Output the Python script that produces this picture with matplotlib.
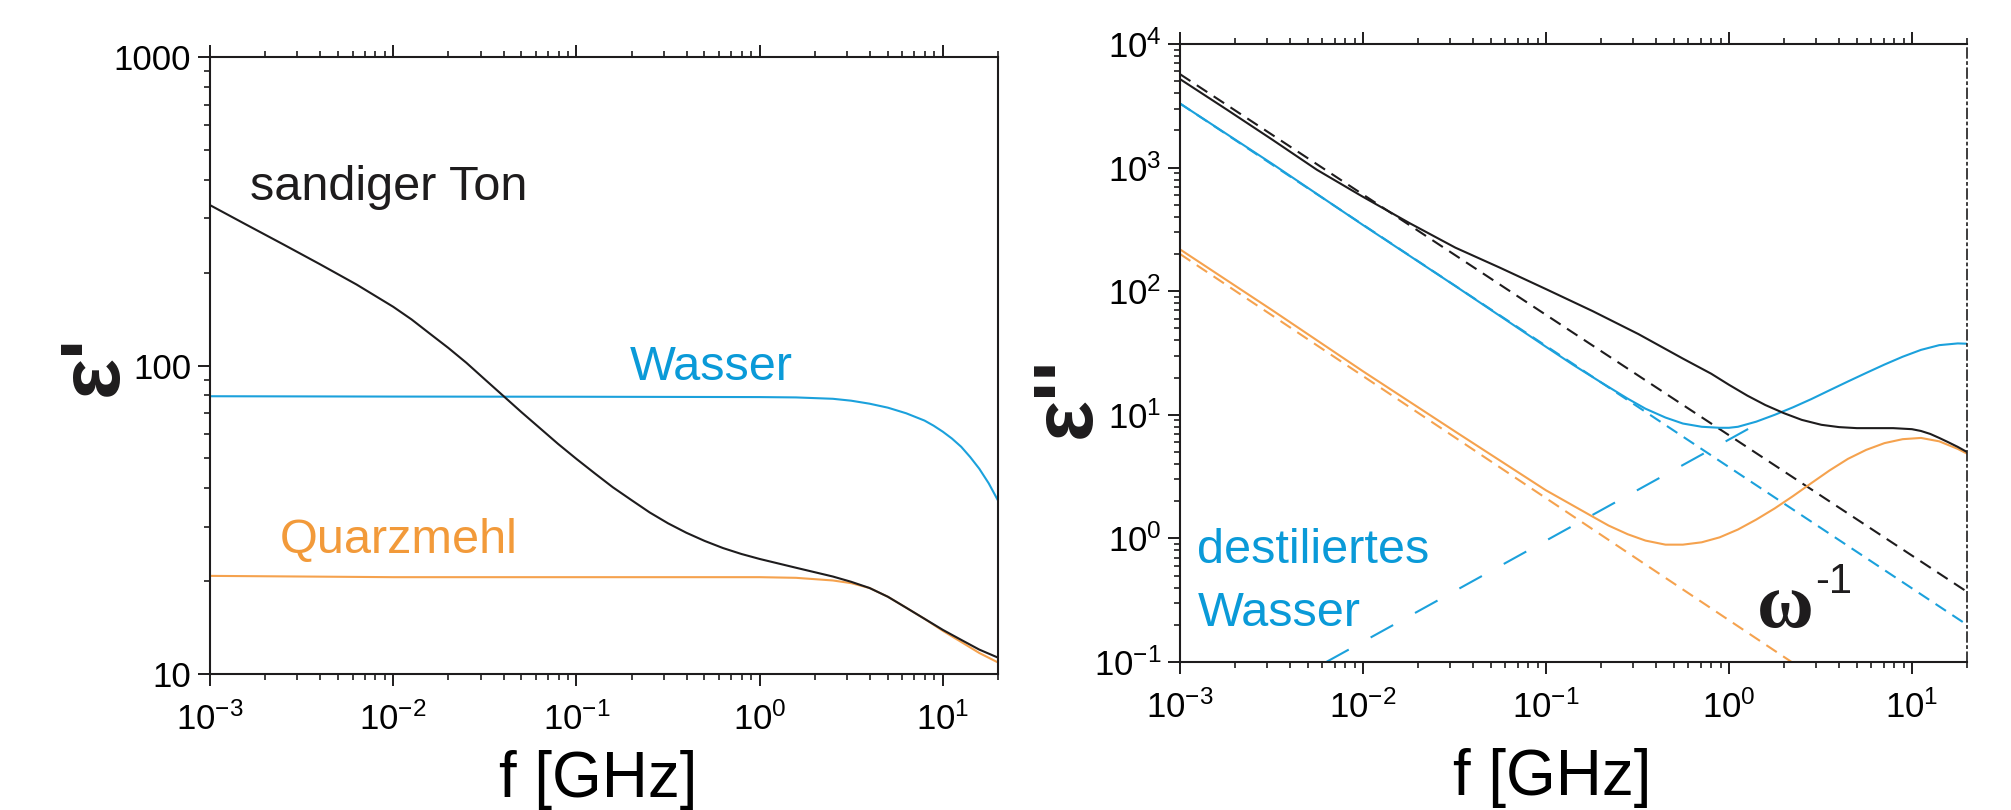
import matplotlib
matplotlib.use("Agg")
import matplotlib.pyplot as plt
from matplotlib.ticker import FixedLocator, LogLocator, NullFormatter, FixedFormatter

plt.rcParams['font.family'] = ['Liberation Sans', 'DejaVu Sans']
plt.rcParams['mathtext.fontset'] = 'custom'
plt.rcParams['mathtext.rm'] = 'Liberation Sans'
plt.rcParams['mathtext.it'] = 'Liberation Sans:italic'
plt.rcParams['mathtext.bf'] = 'Liberation Sans:bold'
plt.rcParams['lines.scale_dashes'] = False

# ---------------- data ----------------
# left panel: eps'
f_ton_re = [0.001, 0.00158, 0.00251, 0.00398, 0.00631, 0.01, 0.0126, 0.0158, 0.02, 0.0251,
            0.0316, 0.0398, 0.0501, 0.0631, 0.0794, 0.1, 0.126, 0.158, 0.2, 0.251,
            0.316, 0.398, 0.501, 0.631, 0.794, 1.0, 1.58, 2.51, 3.16, 3.98,
            5.01, 6.31, 7.94, 10, 12.6, 15.8, 20]
eps_ton_re = [331, 286, 247, 213, 183, 155, 141, 127, 114, 102,
              90.2, 79.8, 70.6, 62.7, 55.7, 49.8, 44.7, 40.3, 36.6, 33.4,
              30.8, 28.7, 27.0, 25.6, 24.5, 23.6, 22.1, 20.7, 19.9, 19.0,
              17.8, 16.4, 15.1, 13.9, 12.9, 12.0, 11.3]

f_wasser_re = [0.001, 0.01, 0.1, 1.0, 1.58, 2.51, 3.16, 3.98, 5.01, 6.31, 7.94, 8.91,
               10, 11.2, 12.6, 14.1, 15.8, 17.8, 20]
eps_wasser_re = [79.5, 79.3, 79.2, 79.0, 78.8, 78.0, 76.9, 75.2, 73.0, 70.0, 66.3, 63.8,
                 61.0, 58.0, 54.5, 50.5, 46.3, 41.5, 36.5]

f_quarz_re = [0.001, 0.01, 0.1, 1.0, 1.58, 2.51, 3.16, 3.98, 5.01, 6.31, 7.94, 10, 12.6, 15.8, 20]
eps_quarz_re = [20.8, 20.6, 20.6, 20.6, 20.5, 20.1, 19.7, 19.0, 17.8, 16.4, 15.1, 13.8, 12.7, 11.7, 10.9]

# right panel: eps''
f_ton_im = [0.001, 0.0018, 0.0032, 0.0056, 0.01, 0.018, 0.032, 0.056, 0.1, 0.18, 0.32, 0.56,
            0.8, 1.0, 1.26, 1.58, 2.0, 2.5, 3.2, 4.0, 5.0, 6.3, 7.9, 10, 11.2, 12.6, 14.1,
            15.8, 17.8, 20]
eps_ton_im = [5200, 2950, 1680, 960, 580, 355, 225, 155, 104, 69, 45, 28.5,
              21.5, 17.5, 14.3, 12.0, 10.3, 9.1, 8.3, 7.95, 7.8, 7.8, 7.8, 7.65, 7.4, 7.0, 6.5,
              6.0, 5.5, 5.0]

f_wasser_im = [0.001, 0.0032, 0.01, 0.032, 0.1, 0.14, 0.2, 0.28, 0.35, 0.45, 0.56, 0.71, 0.89,
               1.0, 1.12, 1.41, 1.78, 2.24, 2.82, 3.55, 4.47, 5.62, 7.08, 8.9, 11.2, 14.1, 17.8, 20]
eps_wasser_im = [3300, 1070, 343, 110, 35.5, 25.5, 18.3, 13.5, 11.2, 9.5, 8.5, 8.0, 7.85,
                 7.85, 8.0, 8.8, 10.0, 11.5, 13.4, 15.8, 18.6, 21.8, 25.5, 29.5, 33.5, 36.6, 37.8, 37.6]

f_quarz_im = [0.001, 0.0032, 0.01, 0.032, 0.1, 0.14, 0.18, 0.22, 0.28, 0.35, 0.45, 0.56, 0.71,
              0.89, 1.12, 1.41, 1.78, 2.24, 2.82, 3.55, 4.47, 5.62, 7.08, 8.9, 11.2, 14.1, 17.8, 20]
eps_quarz_im = [218, 70, 22.5, 7.3, 2.45, 1.85, 1.5, 1.27, 1.08, 0.96, 0.89, 0.89, 0.93,
                1.02, 1.18, 1.42, 1.75, 2.2, 2.8, 3.55, 4.4, 5.2, 5.9, 6.35, 6.5, 6.1, 5.3, 4.85]

# omega^-1 conduction asymptotes and the water relaxation asymptote
f_ton_cond = [0.001, 20]
eps_ton_cond = [5700, 0.37]
f_wasser_cond = [0.001, 20]
eps_wasser_cond = [3300, 0.2]
f_quarz_cond = [0.001, 2.2]
eps_quarz_cond = [200, 0.1]
f_wasser_relax = [0.0063, 1.4]
eps_wasser_relax = [0.1, 8.3]

xticks = [1e-3, 1e-2, 1e-1, 1e0, 1e1]
xticklabels = [r'$\mathregular{10^{-3}}$', r'$\mathregular{10^{-2}}$', r'$\mathregular{10^{-1}}$',
               r'$\mathregular{10^{0}}$', r'$\mathregular{10^{1}}$']
yticks_left = [10, 100, 1000]
yticklabels_left = ['10', '100', '1000']
yticks_right = [1e-1, 1e0, 1e1, 1e2, 1e3, 1e4]
yticklabels_right = [r'$\mathregular{10^{-1}}$', r'$\mathregular{10^{0}}$', r'$\mathregular{10^{1}}$',
                     r'$\mathregular{10^{2}}$', r'$\mathregular{10^{3}}$', r'$\mathregular{10^{4}}$']

# ---------------- styling ----------------
BLACK = '#1e1c1d'
BLUE = '#1ba1dc'
ORANGE = '#f5a24e'
BLUE_TXT = '#0a9ad8'
ORANGE_TXT = '#f29a3a'
LW = 1.5

W, H = 2011, 810
fig = plt.figure(figsize=(W / 100, H / 100), dpi=100)
axL = fig.add_axes([210 / W, 1 - 674 / H, 788 / W, 617 / H])
axR = fig.add_axes([1180 / W, 1 - 662 / H, 787 / W, 618 / H])


def style_axes(ax, yticks, yticklabels, ylim):
    ax.set_xscale('log')
    ax.set_yscale('log')
    ax.set_xlim(1e-3, 20)
    ax.set_ylim(*ylim)
    ax.xaxis.set_major_locator(FixedLocator(xticks))
    ax.xaxis.set_major_formatter(FixedFormatter(xticklabels))
    ax.xaxis.set_minor_locator(LogLocator(base=10, subs=range(2, 10), numticks=20))
    ax.xaxis.set_minor_formatter(NullFormatter())
    ax.yaxis.set_major_locator(FixedLocator(yticks))
    ax.yaxis.set_major_formatter(FixedFormatter(yticklabels))
    ax.yaxis.set_minor_locator(LogLocator(base=10, subs=range(2, 10), numticks=20))
    ax.yaxis.set_minor_formatter(NullFormatter())
    for s in ax.spines.values():
        s.set_color(BLACK)
        s.set_linewidth(1.5)
    ax.tick_params(which='both', direction='out', top=True, right=False, color=BLACK)
    ax.tick_params(which='major', length=8.5, width=1.4)
    ax.tick_params(which='minor', length=4.5, width=1.2)
    ax.tick_params(axis='x', which='major', labelsize=25, pad=12)
    ax.tick_params(axis='y', which='major', labelsize=25, pad=5)
    ax.set_xlabel('f [GHz]', fontsize=46)


style_axes(axL, yticks_left, yticklabels_left, (10, 1000))
style_axes(axR, yticks_right, yticklabels_right, (0.1, 1e4))

axL.xaxis.set_label_coords(0.492, -0.199)
axL.xaxis.label.set_va('baseline')
axR.xaxis.set_label_coords(0.473, -0.215)
axR.xaxis.label.set_va('baseline')

# ---------------- left panel ----------------
axL.plot(f_quarz_re, eps_quarz_re, color=ORANGE, lw=LW)
axL.plot(f_wasser_re, eps_wasser_re, color=BLUE, lw=LW)
axL.plot(f_ton_re, eps_ton_re, color=BLACK, lw=LW)

axL.text(0.051, 0.768, 'sandiger Ton', transform=axL.transAxes, fontsize=35,
         color=BLACK, va='baseline', ha='left')
axL.text(0.533, 0.4765, 'Wasser', transform=axL.transAxes, fontsize=35,
         color=BLUE_TXT, va='baseline', ha='left')
axL.text(0.089, 0.196, 'Quarzmehl', transform=axL.transAxes, fontsize=35,
         color=ORANGE_TXT, va='baseline', ha='left')

# ---------------- right panel ----------------
axR.plot(f_quarz_cond, eps_quarz_cond, color=ORANGE, lw=LW, dashes=(9, 5.5))
axR.plot(f_wasser_cond, eps_wasser_cond, color=BLUE, lw=LW, dashes=(9, 5.5))
axR.plot(f_ton_cond, eps_ton_cond, color=BLACK, lw=LW, dashes=(9, 5.5))
axR.plot(f_wasser_relax, eps_wasser_relax, color=BLUE, lw=LW, dashes=(18.5, 18))
axR.plot(f_quarz_im, eps_quarz_im, color=ORANGE, lw=LW)
axR.plot(f_wasser_im, eps_wasser_im, color=BLUE, lw=LW)
axR.plot(f_ton_im, eps_ton_im, color=BLACK, lw=LW)
axR.spines['right'].set_linestyle((0, (7, 3, 1.5, 3)))
axR.spines['right'].set_linewidth(1.2)

axR.text(0.0216, 0.160, 'destiliertes', transform=axR.transAxes, fontsize=35,
         color=BLUE_TXT, va='baseline', ha='left')
axR.text(0.0229, 0.058, 'Wasser', transform=axR.transAxes, fontsize=35,
         color=BLUE_TXT, va='baseline', ha='left')
axR.text(0.733, 0.0566, '\u03c9', transform=axR.transAxes, fontsize=56,
         family=['Liberation Serif', 'DejaVu Serif'], fontweight='bold',
         color=BLACK, va='baseline', ha='left')
axR.text(0.807, 0.112, '-1', transform=axR.transAxes, fontsize=30,
         color=BLACK, va='baseline', ha='left')

# y labels (rotated epsilon with primes)
fig.text(117 / W, 1 - 365 / H, "\u03b5'", rotation=90, rotation_mode='anchor',
         ha='center', va='baseline', fontsize=62, fontweight='bold', color=BLACK)
fig.text(1090 / W, 1 - 397 / H, "\u03b5''", rotation=90, rotation_mode='anchor',
         ha='center', va='baseline', fontsize=62, fontweight='bold', color=BLACK)

fig.savefig('out.png', dpi=100)
